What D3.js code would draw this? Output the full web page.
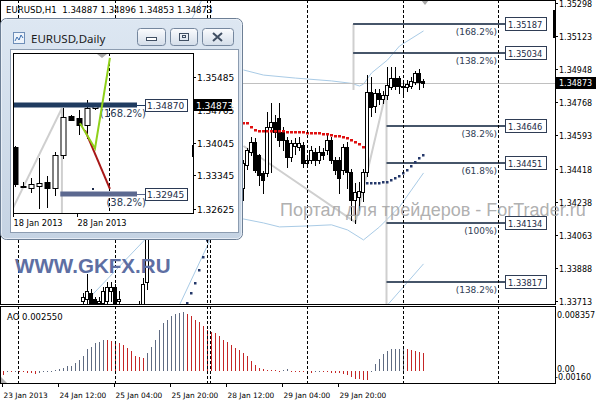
<!DOCTYPE html>
<html>
<head>
<meta charset="utf-8">
<title>EURUSD,H1</title>
<script src="https://cdn.jsdelivr.net/npm/d3@7/dist/d3.min.js"></script>
<style>
  body { margin: 0; background: #fff; }
  svg { display: block; }
  text { font-family: "DejaVu Sans", sans-serif; }
</style>
</head>
<body>
<script>
// ---- hourly bars (index 0 = first bar on screen); bars hidden by the inset are left out
var barIdx = [20,21,22,23,24,25,26,27,28,29,34,35,36,
  60,61,62,63,64,65,66,67,68,69,70,71,72,73,74,75,76,77,78,79,80,81,82,
  83,84,85,86,87,88,89,90,91,92,93,94,95,96,97,98,99,100,101,102,103,104,105];
var barOpen = [1.3372,1.3373,1.3376,1.3373,1.3371,1.3371,1.3372,1.3377,1.3379,1.3372,1.3369,1.3370,1.3382,
  1.34318,1.34440,1.34510,1.34560,1.34490,1.34398,1.34398,1.34641,1.34668,1.34690,1.34615,1.34572,1.34482,
  1.34540,1.34535,1.34545,1.34450,1.34466,1.34510,1.34466,1.34510,1.34519,1.34572,1.34466,1.34466,1.34413,
  1.34535,1.34402,1.34254,1.34270,1.34296,1.34402,1.34826,1.34750,1.34820,1.34790,1.34810,1.34853,1.34900,
  1.34900,1.34860,1.34855,1.34860,1.34880,1.34927,1.34887];
var barHigh = [1.3376,1.3386,1.3378,1.3374,1.3374,1.3379,1.3382,1.3382,1.3381,1.3377,1.3372,1.3384,1.3430,
  1.34466,1.34530,1.34590,1.34580,1.34500,1.34410,1.34720,1.34768,1.34705,1.34768,1.34640,1.34590,1.34570,
  1.34580,1.34590,1.34560,1.34490,1.34540,1.34530,1.34540,1.34530,1.34598,1.34590,1.34480,1.34480,1.34550,
  1.34560,1.34420,1.34345,1.34350,1.34420,1.34916,1.34905,1.34840,1.34840,1.34830,1.34960,1.34960,1.34960,
  1.34910,1.34890,1.34890,1.34905,1.34940,1.34950,1.34896];
var barLow = [1.3368,1.3370,1.3366,1.3366,1.3366,1.3366,1.3366,1.3372,1.3366,1.3366,1.3365,1.3366,1.3378,
  1.34254,1.34420,1.34490,1.34400,1.34334,1.34290,1.34380,1.34400,1.34590,1.34540,1.34520,1.34430,1.34460,
  1.34500,1.34520,1.34430,1.34430,1.34450,1.34440,1.34450,1.34470,1.34500,1.34450,1.34390,1.34290,1.34390,
  1.34318,1.34148,1.34132,1.34200,1.34250,1.34380,1.34700,1.34720,1.34760,1.34770,1.34790,1.34840,1.34840,
  1.34820,1.34810,1.34830,1.34850,1.34870,1.34840,1.34853];
var barClose = [1.3374,1.3377,1.3370,1.3371,1.3372,1.3377,1.3379,1.3379,1.3370,1.3373,1.3370,1.3381,1.3425,
  1.34450,1.34520,1.34560,1.34413,1.34387,1.34360,1.34641,1.34668,1.34615,1.34572,1.34572,1.34482,1.34556,
  1.34555,1.34556,1.34450,1.34466,1.34519,1.34466,1.34510,1.34490,1.34572,1.34466,1.34413,1.34370,1.34535,
  1.34402,1.34254,1.34296,1.34300,1.34402,1.34826,1.34746,1.34820,1.34790,1.34810,1.34863,1.34900,1.34860,
  1.34858,1.34855,1.34870,1.34885,1.34927,1.34880,1.34873];

// parabolic SAR dots
var sarRedIdx = [60,61,62,63,64,65,66,67,68,69,70,71,72,73,74,75,76,77,78,79,80,81,82,83,84,85,86,87,88,89,90];
var sarRedVal = [1.34662,1.34662,1.34641,1.34625,1.34620,1.34620,1.34620,1.34620,1.34620,1.34620,1.34620,
  1.34614,1.34614,1.34614,1.34614,1.34614,1.34609,1.34609,1.34609,1.34609,1.34604,1.34604,1.34598,1.34593,
  1.34593,1.34588,1.34583,1.34572,1.34561,1.34551,1.34535];
var sarBlueIdx = [46,47,48,49,50,51,91,92,93,94,95,96,97,98,99,100,101,102,103,104,105];
var sarBlueVal = [1.33708,1.33761,1.33814,1.33883,1.33952,1.34042,1.34344,1.34344,1.34344,1.34344,1.34349,
  1.34349,1.34360,1.34371,1.34381,1.34397,1.34413,1.34434,1.34455,1.34477,1.34493];

// band lines [bar, price]; null breaks the line
var upperBand = [[21,1.33724],[36,1.34058],[47,1.35210],[50,1.35330],[null,null],[60,1.34943],[65,1.34916],
  [73,1.34900],[82,1.34885],[87,1.34872],[89,1.34858],[90,1.34868],[92,1.34927],[96,1.34996],[99,1.35070],[105,1.35150]];
var lowerBand = [[44,1.33697],[52,1.34058],[60,1.34153],[65,1.34132],[69,1.34111],[76,1.34116],[82,1.34122],
  [86,1.34095],[90,1.34042],[94,1.34111],[99,1.34217],[105,1.34397]];
var outerBand = [[96,1.33697],[105,1.33915]];

// zigzag / fibo anchor lines
var zigzag = [[60,1.34540],[88,1.34135],[95.75,1.34837]];
var fibPrices = [1.35187,1.35034,1.34646,1.34451,1.34134,1.33817];
var fibNames = ["(168.2%)","(138.2%)","(38.2%)","(61.8%)","(100%)","(138.2%)"];
var fibStart = [87.4,87.4,95.75,95.75,95.75,95.75];

// Awesome Oscillator, one value per bar 0..105
var aoVals = [-0.0005,0.00005,0.00005,0.0001,0.00005,-0.0001,-0.0002,-0.0003,-0.00032,-0.0002,
  -0.0001,0.00005,0.0001,0.00015,0.0003,0.0005,0.0007,0.0008,0.0011,0.0016,
  0.0021,0.0031,0.0034,0.0039,0.0041,0.0044,0.0043,0.00428,0.00425,0.0040,
  0.0037,0.0032,0.0028,0.0021,0.0020,0.0018,0.0025,0.0034,0.0044,0.0057,
  0.0067,0.0072,0.0077,0.0079,0.0081,0.0082,0.0080,0.0077,0.0072,0.0068,
  0.0063,0.0057,0.0055,0.0053,0.0049,0.0044,0.0041,0.0037,0.0032,0.0030,
  0.0025,0.0021,0.0015,0.0009,0.0004,0.0003,0.0002,0.00018,0.00015,0.0001,
  0.00018,0.0003,0.0001,0.00005,-0.0001,-0.00015,-0.0002,-0.0002,-0.00015,-0.0001,
  -0.00012,-0.00015,-0.0002,-0.00025,-0.0003,-0.00035,-0.00055,-0.00078,-0.00101,-0.00113,
  -0.00116,-0.00118,-0.00005,0.00106,0.00174,0.00243,0.00289,0.00308,0.00312,0.00314,
  0.00317,0.00305,0.00295,0.00285,0.0027,0.00255];

// axes
var priceTicks = [1.35298,1.35123,1.34948,1.34768,1.34593,1.34418,1.34238,1.34063,1.33888,1.33713];
var timeLabels = ["23 Jan 2013","24 Jan 12:00","25 Jan 04:00","25 Jan 20:00","28 Jan 12:00","29 Jan 04:00","29 Jan 20:00"];
var timeIdx = [0,14,28,42,56,70,84];
var sepIdx = [3.75,28,51,51.75,76,100,123.75];
var lastPrice = 1.34873;

// ---- daily inset
var dayOpen  = [1.3396,1.3312,1.3307,1.3313,1.3320,1.3307,1.3379,1.3463,1.3459,1.3444,1.3481];
var dayHigh  = [1.3400,1.3322,1.3330,1.3372,1.3335,1.3385,1.3481,1.3466,1.3477,1.3498,1.3490];
var dayLow   = [1.3310,1.3307,1.3298,1.3263,1.3264,1.3290,1.3370,1.3454,1.3422,1.3415,1.3476];
var dayClose = [1.3317,1.3311,1.3317,1.3318,1.3309,1.3379,1.3462,1.3456,1.3444,1.3481,1.34873];
var dayLabels = ["18 Jan 2013","28 Jan 2013"];
var dayLabelIdx = [0,8];
var dayTicks = [1.35485,1.34765,1.34045,1.33345,1.32625];
var dayFibPrices = [1.34870,1.32945];
var dayFibNames = ["(168.2%)","(38.2%)"];
var dayFibStart = [-0.3,5.6];
var dayZigzag = [[-0.3,1.32651],[5.8,1.34809]];
var dayGreen = [[8.06,1.34482],[9.94,1.33937],[11.8,1.35899]];
var dayRed = [[8.7,1.34330],[11.8,1.33059]];

// ---------------------------------------------------------------
var svg = d3.select("body").append("svg").attr("width", 596).attr("height", 400);
svg.append("rect").attr("width", 596).attr("height", 400).attr("fill", "#fff");

var x = d3.scaleLinear().domain([0, 105]).range([3.5, 423.5]);
var y = d3.scaleLinear().domain([1.33697, 1.35314]).range([305, 0]);
var yAO = d3.scaleLinear().domain([-0.0016, 0.008357]).range([382.8, 311.2]);

function px(v){ return Math.floor(v) + 0.5; }

var defs = svg.append("defs");
defs.append("clipPath").attr("id", "clipMain").append("rect")
  .attr("x", 1).attr("y", 1).attr("width", 554).attr("height", 303);
defs.append("clipPath").attr("id", "clipAO").append("rect")
  .attr("x", 1).attr("y", 307).attr("width", 554).attr("height", 76);
defs.append("clipPath").attr("id", "clipIn").append("rect")
  .attr("x", 14).attr("y", 54).attr("width", 179).attr("height", 159);
var fg = defs.append("linearGradient").attr("id", "frameGrad").attr("x1", 0).attr("y1", 0).attr("x2", 0).attr("y2", 1);
fg.append("stop").attr("offset", 0).attr("stop-color", "#dde7f2");
fg.append("stop").attr("offset", 1).attr("stop-color", "#c5d3e3");
var bg = defs.append("linearGradient").attr("id", "btnGrad").attr("x1", 0).attr("y1", 0).attr("x2", 0).attr("y2", 1);
bg.append("stop").attr("offset", 0).attr("stop-color", "#fbfcfe");
bg.append("stop").attr("offset", 1).attr("stop-color", "#d3dde9");

var main = svg.append("g").attr("clip-path", "url(#clipMain)");
var aoG = svg.append("g").attr("clip-path", "url(#clipAO)");

// period separators
sepIdx.forEach(function(s){
  var sx = px(x(s));
  [[0, 305], [306, 384]].forEach(function(r){
    svg.append("line").attr("x1", sx).attr("x2", sx).attr("y1", r[0]).attr("y2", r[1])
      .attr("stroke", "#000").attr("stroke-dasharray", "3,2");
  });
});

// bands
var bandLine = d3.line().defined(function(d){ return d[0] != null; })
  .x(function(d){ return x(d[0]); }).y(function(d){ return y(d[1]); });
[upperBand, lowerBand, outerBand].forEach(function(b){
  main.append("path").attr("d", bandLine(b)).attr("fill", "none")
    .attr("stroke", "#a9cbe6").attr("stroke-width", 1);
});

// zigzag lines
main.append("path").attr("d", bandLine(zigzag)).attr("fill", "none")
  .attr("stroke", "#cfcfcf").attr("stroke-width", 2);
main.append("line").attr("x1", px(x(95.75))).attr("x2", px(x(95.75)))
  .attr("y1", y(zigzag[2][1])).attr("y2", 305).attr("stroke", "#cfcfcf").attr("stroke-width", 2);
main.append("line").attr("x1", px(x(87.4))).attr("x2", px(x(87.4)))
  .attr("y1", y(fibPrices[0])).attr("y2", y(zigzag[2][1])).attr("stroke", "#cfcfcf").attr("stroke-width", 2);

// current price line
main.append("line").attr("x1", 0).attr("x2", 555)
  .attr("y1", px(y(lastPrice))).attr("y2", px(y(lastPrice))).attr("stroke", "#c0c0c0");

// fibo levels
var fibEnd = 125.4;
fibPrices.forEach(function(p, k){
  var ly = Math.round(y(p));
  main.append("line").attr("x1", x(fibStart[k])).attr("x2", x(fibEnd))
    .attr("y1", ly).attr("y2", ly).attr("stroke", "#465569").attr("stroke-width", 2);
  main.append("text").attr("x", 497).attr("y", ly + 11).attr("text-anchor", "end")
    .attr("font-size", "9px").attr("fill", "#2f3d55").text(fibNames[k]);
  svg.append("rect").attr("x", 505.5).attr("y", ly - 6.5).attr("width", 41).attr("height", 13)
    .attr("fill", "#fff").attr("stroke", "#2f3d55");
  svg.append("text").attr("x", 508).attr("y", ly + 3.5).attr("font-size", "8.3px")
    .attr("fill", "#1d2b45").text(p.toFixed(5));
});

// candles
barIdx.forEach(function(i, k){
  var cx = px(x(i)), o = barOpen[k], c = barClose[k];
  main.append("line").attr("x1", cx).attr("x2", cx)
    .attr("y1", Math.round(y(barHigh[k]))).attr("y2", Math.round(y(barLow[k])) + 1).attr("stroke", "#000");
  var top = Math.round(y(Math.max(o, c))), bot = Math.round(y(Math.min(o, c)));
  if (c >= o) {
    main.append("rect").attr("x", cx - 2).attr("y", top + 0.5).attr("width", 3)
      .attr("height", Math.max(1, bot - top)).attr("fill", "#fff").attr("stroke", "#000");
  } else {
    main.append("rect").attr("x", cx - 2.5).attr("y", top).attr("width", 4)
      .attr("height", Math.max(1, bot - top + 1)).attr("fill", "#000");
  }
});

// SAR dots
sarRedIdx.forEach(function(i, k){
  main.append("rect").attr("x", px(x(i)) - 1.5).attr("y", Math.round(y(sarRedVal[k])) - 1)
    .attr("width", 3).attr("height", 2.5).attr("fill", "#e01010");
});
sarBlueIdx.forEach(function(i, k){
  main.append("rect").attr("x", px(x(i)) - 1.5).attr("y", Math.round(y(sarBlueVal[k])) - 1)
    .attr("width", 2.5).attr("height", 2.5).attr("fill", "#24386a");
});

// chart-shift markers
svg.append("path").attr("d", "M421,0 L429,0 L425,5 Z").attr("fill", "#a8a8a8");
svg.append("path").attr("d", "M1,377 L1,383 L7,383 Z").attr("fill", "#b0b0b0");

// AO histogram
aoVals.forEach(function(v, i){
  var up = i === 0 ? false : v > aoVals[i - 1];
  var cx = px(x(i));
  var y0 = yAO(0), y1 = yAO(v);
  aoG.append("line").attr("x1", cx).attr("x2", cx)
    .attr("y1", Math.round(Math.min(y0, y1))).attr("y2", Math.max(Math.round(Math.max(y0, y1)), Math.round(Math.min(y0, y1)) + 1))
    .attr("stroke", up ? "#5f6b82" : "#c42626");
});
svg.append("text").attr("x", 7).attr("y", 319.5).attr("font-size", "8.5px").attr("fill", "#000").text("AO 0.002550");

// frames
svg.append("rect").attr("x", 0.5).attr("y", 0.5).attr("width", 555).attr("height", 304)
  .attr("fill", "none").attr("stroke", "#000");
svg.append("rect").attr("x", 0.5).attr("y", 306.5).attr("width", 555).attr("height", 77)
  .attr("fill", "none").attr("stroke", "#000");
svg.append("rect").attr("x", 553).attr("y", 10).attr("width", 3).attr("height", 28).attr("fill", "#000");

// header
svg.append("text").attr("x", 6).attr("y", 13).attr("font-size", "8.6px").attr("fill", "#000")
  .attr("xml:space", "preserve").text("EURUSD,H1  1.34887 1.34896 1.34853 1.34873");

// price axis
priceTicks.forEach(function(p){
  var ty = px(y(p));
  svg.append("line").attr("x1", 555).attr("x2", 558).attr("y1", ty).attr("y2", ty).attr("stroke", "#000");
  svg.append("text").attr("x", 559).attr("y", ty + 3).attr("font-size", "8px").attr("fill", "#000").text(p.toFixed(5));
});
svg.append("rect").attr("x", 556).attr("y", Math.round(y(lastPrice)) - 6).attr("width", 40).attr("height", 12).attr("fill", "#000");
svg.append("text").attr("x", 559).attr("y", Math.round(y(lastPrice)) + 3).attr("font-size", "8px")
  .attr("fill", "#fff").text(lastPrice.toFixed(5));

// AO axis
svg.append("text").attr("x", 557).attr("y", 318).attr("font-size", "8px").text("0.008357");
svg.append("text").attr("x", 557).attr("y", 372).attr("font-size", "8px").text("0.00");
svg.append("text").attr("x", 555).attr("y", 380).attr("font-size", "8px").text("-0.00160");

// time axis
timeIdx.forEach(function(i, k){
  var tx = px(x(i) - 1.5);
  svg.append("line").attr("x1", tx).attr("x2", tx).attr("y1", 383).attr("y2", 387).attr("stroke", "#000");
  svg.append("text").attr("x", tx + 1).attr("y", 398).attr("font-size", "7.4px").attr("fill", "#000").text(timeLabels[k]);
});

// ---------------- daily inset window ----------------
var win = svg.append("g");
win.append("rect").attr("x", 0.5).attr("y", 18.5).attr("width", 242).attr("height", 221).attr("rx", 6)
  .attr("fill", "url(#frameGrad)").attr("stroke", "#6d7f95");
win.append("rect").attr("x", 1.5).attr("y", 19.5).attr("width", 240).attr("height", 219).attr("rx", 5)
  .attr("fill", "none").attr("stroke", "#eef3f9").attr("stroke-opacity", 0.8);
win.append("rect").attr("x", 10.5).attr("y", 49.5).attr("width", 228).attr("height", 183)
  .attr("fill", "#fff").attr("stroke", "#8c9cb0");
// icon + title
win.append("rect").attr("x", 13.5).attr("y", 32.5).attr("width", 11).attr("height", 11)
  .attr("fill", "#eef4fb").attr("stroke", "#6f8fb8");
win.append("path").attr("d", "M15,41 L17,37 L19,40 L21,35 L23,38").attr("fill", "none").attr("stroke", "#3b6fb0");
win.append("text").attr("x", 31).attr("y", 43).attr("font-size", "11.5px")
  .style("font-family", "'Noto Sans', sans-serif").attr("fill", "#1b1b1b").text("EURUSD,Daily");
// caption buttons
[[137.5, 28], [170.5, 27], [202.5, 31]].forEach(function(b){
  win.append("rect").attr("x", b[0]).attr("y", 28.5).attr("width", b[1]).attr("height", 17).attr("rx", 3)
    .attr("fill", "url(#btnGrad)").attr("stroke", "#75879e");
});
win.append("rect").attr("x", 146.5).attr("y", 37.5).attr("width", 10).attr("height", 3)
  .attr("fill", "#fff").attr("stroke", "#404f63");
win.append("rect").attr("x", 179.5).attr("y", 33.5).attr("width", 9).attr("height", 7)
  .attr("fill", "none").attr("stroke", "#404f63");
win.append("rect").attr("x", 182.5).attr("y", 35.5).attr("width", 3).attr("height", 2)
  .attr("fill", "none").attr("stroke", "#404f63");
win.append("path").attr("d", "M213,33 L222,41 M222,33 L213,41").attr("stroke", "#404f63").attr("stroke-width", 2);

var xIn = d3.scaleLinear().domain([0, 10]).range([15.5, 95.5]);
var yIn = d3.scaleLinear().domain([1.32625, 1.35485]).range([209, 77]);
var inG = win.append("g").attr("clip-path", "url(#clipIn)");
var inLine = d3.line().x(function(d){ return xIn(d[0]); }).y(function(d){ return yIn(d[1]); });

inG.append("path").attr("d", inLine(dayZigzag)).attr("fill", "none").attr("stroke", "#cfcfcf").attr("stroke-width", 2);
inG.append("line").attr("x1", xIn(5.8)).attr("x2", xIn(5.8)).attr("y1", yIn(dayZigzag[1][1])).attr("y2", 214)
  .attr("stroke", "#cfcfcf").attr("stroke-width", 2);
inG.append("line").attr("x1", px(xIn(11.8))).attr("x2", px(xIn(11.8))).attr("y1", 53).attr("y2", 214)
  .attr("stroke", "#000").attr("stroke-dasharray", "3,2");

dayOpen.forEach(function(o, k){
  var cx = px(xIn(k)), c = dayClose[k];
  inG.append("line").attr("x1", cx).attr("x2", cx)
    .attr("y1", Math.round(yIn(dayHigh[k]))).attr("y2", Math.round(yIn(dayLow[k]))).attr("stroke", "#000");
  var top = Math.round(yIn(Math.max(o, c))), bot = Math.round(yIn(Math.min(o, c)));
  if (c >= o) {
    inG.append("rect").attr("x", cx - 2.5).attr("y", top + 0.5).attr("width", 5)
      .attr("height", Math.max(1, bot - top)).attr("fill", "#fff").attr("stroke", "#000");
  } else {
    inG.append("rect").attr("x", cx - 3).attr("y", top).attr("width", 6)
      .attr("height", Math.max(2, bot - top + 1)).attr("fill", "#000");
  }
});

var fibInColors = ["#1f3b60", "#5c6990"];
dayFibPrices.forEach(function(p, k){
  var ly = Math.round(yIn(p));
  inG.append("line").attr("x1", xIn(dayFibStart[k])).attr("x2", 137).attr("y1", ly).attr("y2", ly)
    .attr("stroke", fibInColors[k]).attr("stroke-width", 5);
  inG.append("line").attr("x1", 137).attr("x2", 146).attr("y1", ly + 0.5).attr("y2", ly + 0.5)
    .attr("stroke", fibInColors[k]);
  inG.append("text").attr("x", 146).attr("y", ly + 12).attr("text-anchor", "end")
    .attr("font-size", "10px").attr("fill", "#2b3a55").text(dayFibNames[k]);
});

inG.append("path").attr("d", inLine(dayRed)).attr("fill", "none").attr("stroke", "#a81818").attr("stroke-width", 2);
inG.append("path").attr("d", inLine(dayGreen)).attr("fill", "none").attr("stroke", "#8fd11a").attr("stroke-width", 2);
inG.append("rect").attr("x", 92).attr("y", 188).attr("width", 2).attr("height", 2).attr("fill", "#1c2a4a");
inG.append("path").attr("d", "M97,54 L107,54 L102,58 Z").attr("fill", "#a8a8a8");

win.append("rect").attr("x", 13.5).attr("y", 53.5).attr("width", 180).attr("height", 160)
  .attr("fill", "none").attr("stroke", "#000");
win.append("rect").attr("x", 192).attr("y", 145).attr("width", 2).attr("height", 12).attr("fill", "#000");

dayTicks.forEach(function(p){
  var ty = px(yIn(p));
  win.append("line").attr("x1", 193).attr("x2", 196).attr("y1", ty).attr("y2", ty).attr("stroke", "#000");
  win.append("text").attr("x", 197).attr("y", ty + 3.5).attr("font-size", "9px").text(p.toFixed(5));
});
dayFibPrices.forEach(function(p, k){
  var ly = Math.round(yIn(p));
  win.append("rect").attr("x", 145.5).attr("y", ly - 5.5).attr("width", 42).attr("height", 12)
    .attr("fill", "#fff").attr("stroke", "#2b3a55");
  win.append("text").attr("x", 147).attr("y", ly + 4).attr("font-size", "9px").attr("fill", "#1d2b45").text(p.toFixed(5));
});
var lpy = Math.round(yIn(lastPrice));
win.append("rect").attr("x", 194).attr("y", lpy - 6).attr("width", 38).attr("height", 12).attr("fill", "#000");
win.append("text").attr("x", 196).attr("y", lpy + 4).attr("font-size", "9px").attr("fill", "#fff").text(lastPrice.toFixed(5));

dayLabelIdx.forEach(function(k, j){
  var tx = px(xIn(k) - 2.5);
  win.append("line").attr("x1", tx).attr("x2", tx).attr("y1", 213).attr("y2", 217).attr("stroke", "#000");
  win.append("text").attr("x", tx).attr("y", 226).attr("font-size", "8.2px").text(dayLabels[j]);
});

// ---------------- watermarks ----------------
svg.append("text").attr("x", 15).attr("y", 273).attr("font-size", "20.6px").attr("font-weight", "bold")
  .style("font-family", "'Liberation Sans', Arial, sans-serif").attr("fill", "#5e6fa3").text("WWW.GKFX.RU");
svg.append("text").attr("x", 280).attr("y", 216).attr("font-size", "18px")
  .style("font-family", "'Liberation Sans', Arial, sans-serif").attr("fill", "#a6a6a6").attr("fill-opacity", 0.9)
  .text("Портал для трейдеров - ForTrader.ru");
</script>
</body>
</html>
